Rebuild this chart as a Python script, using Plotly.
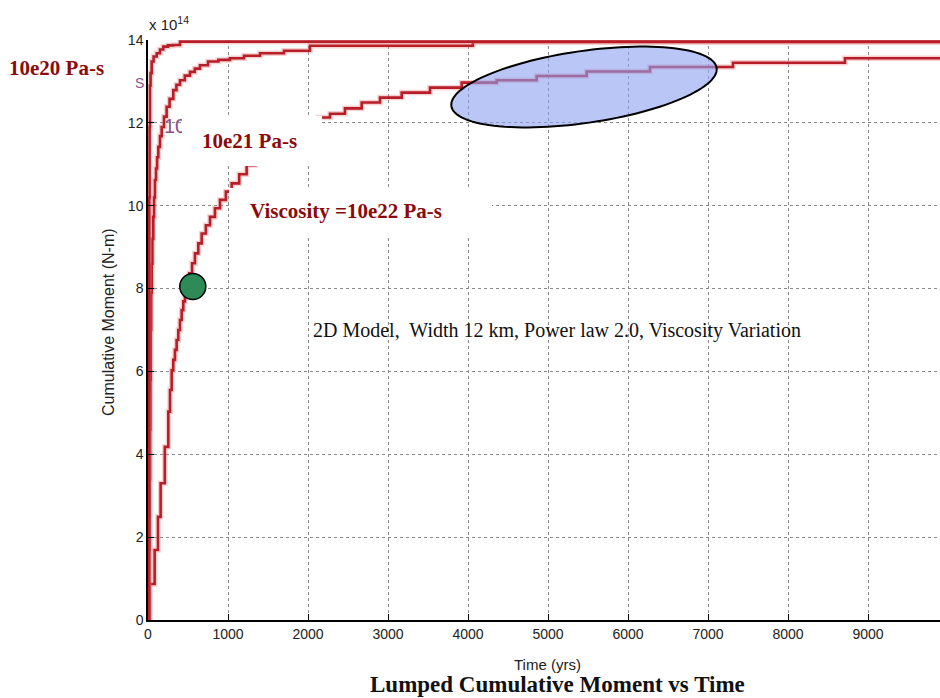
import numpy as np
import plotly.graph_objects as go

# Cumulative moment (x 1e14 N-m) vs time (yrs) for three mantle viscosities
visc20_t = [0, 4, 8, 12, 16, 20, 25, 32, 46, 70, 109, 150, 191, 250, 312, 400, 9900]
visc20_m = [0, 2.5, 5.5, 8.0, 10.2, 11.9, 12.9, 13.2, 13.48, 13.6, 13.68, 13.77, 13.84, 13.87, 13.88, 13.96, 13.96]

visc21_t = [0, 18, 22, 26, 30, 35, 40, 46, 55, 66, 76, 87, 100, 114, 129, 150, 171, 200, 233, 270,
            316, 355, 400, 460, 525, 585, 650, 750, 880, 1025, 1200, 1400, 1700, 2025, 4060, 9900]
visc21_m = [0, 1.7, 3.4, 4.6, 5.8, 7.0, 7.9, 8.6, 9.2, 9.73, 10.2, 10.62, 10.9, 11.17, 11.42, 11.68, 11.9, 12.15, 12.39, 12.58,
            12.79, 12.92, 13.03, 13.14, 13.23, 13.31, 13.39, 13.48, 13.52, 13.56, 13.62, 13.68, 13.74, 13.86, 13.95, 13.95]

visc22_t = [0, 20, 83, 125, 158, 210, 254, 275, 296, 316, 337, 358, 379, 400, 421, 441, 462, 489, 516, 551,
            587, 629, 671, 723, 775, 837, 900, 973, 1046, 1140, 1233, 1340, 1460, 1590, 1730, 1880, 2040, 2125, 2275, 2462,
            2671, 2900, 3171, 3525, 3921, 4358, 4858, 5483, 6275, 7312, 8712, 9900]
visc22_m = [0, 0.87, 1.69, 2.49, 3.3, 4.18, 5.03, 5.55, 6.03, 6.28, 6.52, 6.76, 7.0, 7.24, 7.48, 7.69, 7.89, 8.13, 8.37, 8.61,
            8.85, 9.09, 9.33, 9.53, 9.73, 9.94, 10.14, 10.34, 10.54, 10.76, 10.98, 11.2, 11.4, 11.58, 11.75, 11.9, 12.03, 12.13, 12.22, 12.35,
            12.49, 12.61, 12.73, 12.85, 12.97, 13.03, 13.13, 13.24, 13.35, 13.45, 13.56, 13.56]

# Highlighted point on the 10e22 curve
marker_t = [560]
marker_m = [8.05]

x_ticks = [0, 1000, 2000, 3000, 4000, 5000, 6000, 7000, 8000, 9000]
y_ticks = [0, 2, 4, 6, 8, 10, 12, 14]

X_MAX, Y_MAX = 9900, 14
W, H = 940, 698
ML, MR, MT, MB = 148, 0, 40, 78
PW, PH = W - ML - MR, H - MT - MB

def px_to_paper(px, py):
    return (px - ML) / PW, (H - MB - py) / PH

def px_to_data(px, py):
    return (px - ML) / PW * X_MAX, (H - MB - py) / PH * Y_MAX

LINE_RED = "#b81e28"
HALO = "rgba(230,120,120,0.35)"
LABEL_RED = "#8b0a0a"
PURPLE = "#8c4f8c"

fig = go.Figure()

for t, m in [(visc22_t, visc22_m), (visc21_t, visc21_m), (visc20_t, visc20_m)]:
    fig.add_trace(go.Scatter(x=t, y=m, mode="lines", line=dict(color=HALO, width=5.5, shape="hv"),
                             hoverinfo="skip", showlegend=False))
    fig.add_trace(go.Scatter(x=t, y=m, mode="lines", line=dict(color=LINE_RED, width=2.6, shape="hv"),
                             showlegend=False))

# leftover curve tag partly hidden behind the label panel
tx, ty = px_to_data(175, 128)
fig.add_trace(go.Scatter(x=[tx], y=[ty], mode="text", text=["10"],
                         textfont=dict(family="Liberation Sans", size=20, color=PURPLE),
                         cliponaxis=False, showlegend=False, hoverinfo="skip"))

fig.add_trace(go.Scatter(x=marker_t, y=marker_m, mode="markers",
                         marker=dict(size=26, color="#2e8b57", line=dict(color="black", width=1.5)),
                         showlegend=False))

shapes = []
# white label panels
for (x0, y0, x1, y1) in [(182, 116, 322, 166), (229, 188, 492, 235)]:
    a0, b0 = px_to_paper(x0, y1)
    a1, b1 = px_to_paper(x1, y0)
    shapes.append(dict(type="rect", xref="paper", yref="paper", x0=a0, y0=b0, x1=a1, y1=b1,
                       fillcolor="white", line=dict(width=0), layer="above"))

# tilted ellipse highlighting the late-time steps
cx, cy, ea, eb, ang = 584, 87, 134, 36, np.deg2rad(8.2)
s = np.linspace(0, 2 * np.pi, 121)
ex = cx + ea * np.cos(s) * np.cos(ang) + eb * np.sin(s) * np.sin(ang)
ey = cy - ea * np.cos(s) * np.sin(ang) + eb * np.sin(s) * np.cos(ang)
pts = [px_to_data(a, b) for a, b in zip(ex, ey)]
path = "M " + " L ".join(f"{p[0]:.2f},{p[1]:.4f}" for p in pts) + " Z"
shapes.append(dict(type="path", xref="x", yref="y", path=path,
                   fillcolor="rgba(140,160,240,0.6)", line=dict(color="black", width=2), layer="above"))

annotations = []
def add_text(text, px, py, size, color, family, bold=False, angle=0, xanchor="center"):
    ax, ay = px_to_paper(px, py)
    annotations.append(dict(text=f"<b>{text}</b>" if bold else text, x=ax, y=ay, xref="paper", yref="paper",
                            showarrow=False, xanchor=xanchor, yanchor="middle", textangle=angle,
                            font=dict(size=size, color=color, family=family)))

add_text("10e20 Pa-s", 56, 68, 21, LABEL_RED, "Liberation Serif", bold=True)
add_text("10e21 Pa-s", 249, 141, 21, LABEL_RED, "Liberation Serif", bold=True)
add_text("Viscosity =10e22 Pa-s", 346, 211, 21, LABEL_RED, "Liberation Serif", bold=True)
add_text("2D Model,  Width 12 km, Power law 2.0, Viscosity Variation", 557, 330, 20, "#111", "Liberation Serif")
add_text("S", 139, 83, 14, PURPLE, "Liberation Sans")
add_text("x 10<sup>14</sup>", 147, 23, 15, "#222", "Liberation Sans", xanchor="left")
add_text("Time (yrs)", 547, 664, 15, "#222", "Liberation Sans")
add_text("Cumulative Moment (N-m)", 108, 322, 16, "#222", "Liberation Sans", angle=-90)
add_text("Lumped Cumulative Moment vs Time", 557, 684, 23, "#111", "Liberation Serif", bold=True)

axis_common = dict(showline=True, linecolor="black", linewidth=1.5, mirror=False,
                   ticks="inside", ticklen=6, tickcolor="black", tickwidth=1,
                   showgrid=True, gridcolor="#8a8a8a", griddash="dot", gridwidth=1,
                   zeroline=False, tickfont=dict(family="Liberation Sans", size=14, color="#222"))

fig.update_layout(
    width=W, height=H,
    margin=dict(l=ML, r=MR, t=MT, b=MB),
    paper_bgcolor="white", plot_bgcolor="white",
    xaxis=dict(range=[0, X_MAX], tickvals=x_ticks, ticktext=[str(v) for v in x_ticks], **axis_common),
    yaxis=dict(range=[0, Y_MAX], tickvals=y_ticks, ticktext=[str(v) for v in y_ticks], **axis_common),
    shapes=shapes,
    annotations=annotations,
    showlegend=False,
)

fig.write_html("out.html")
